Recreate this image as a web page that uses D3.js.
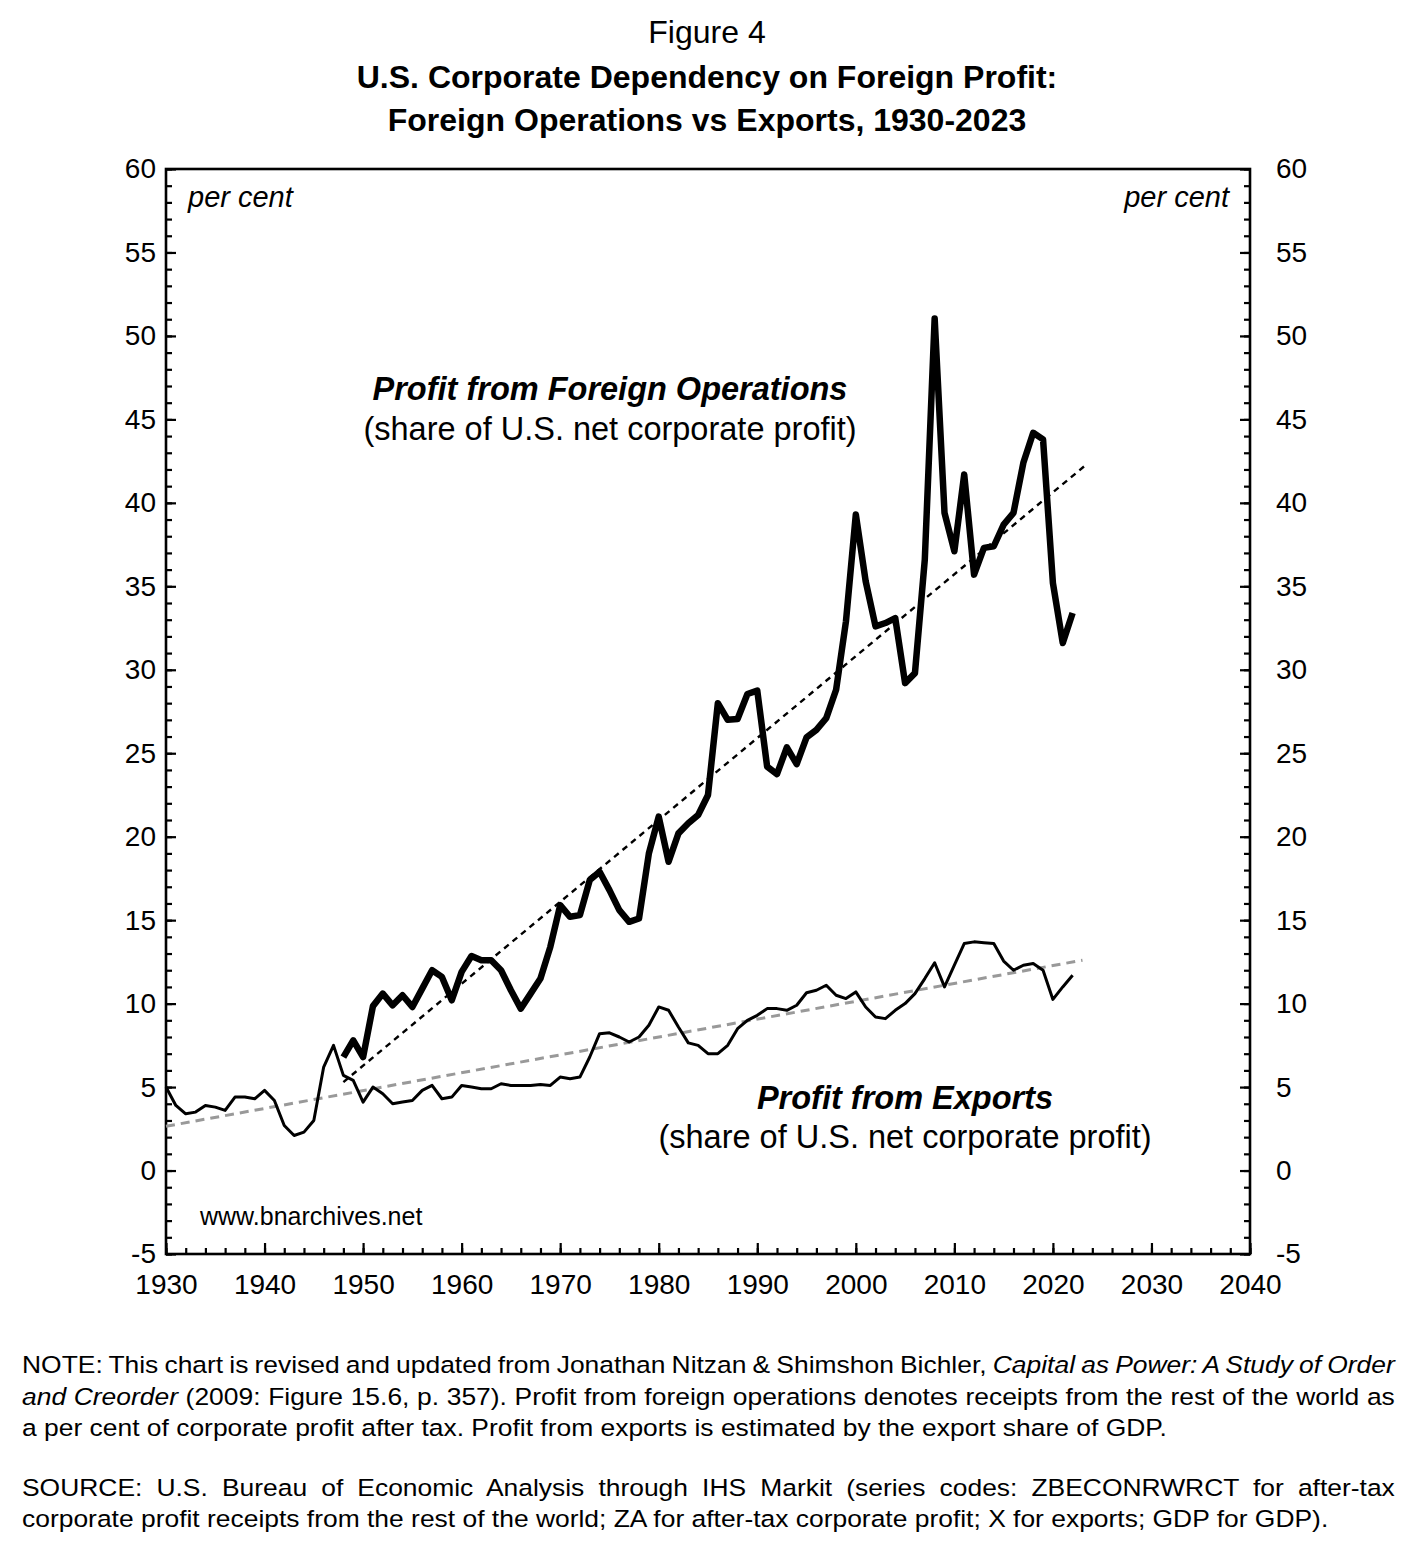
<!DOCTYPE html>
<html>
<head>
<meta charset="utf-8">
<script src="https://cdn.jsdelivr.net/npm/d3@7"></script>
<style>
  html, body { margin: 0; padding: 0; background: #fff; }
  svg { display: block; font-family: "Liberation Sans", Arial, sans-serif; }
</style>
</head>
<body>
<svg id="chart" width="1422" height="1547"></svg>
<script>
// ---------------- DATA ----------------
const exportYears = d3.range(1930, 2023); // 1930..2022
const exportShare = [
  5.0, 3.9, 3.4, 3.5, 3.9, 3.8, 3.6, 4.4, 4.4, 4.3,      // 1930-1939
  4.8, 4.2, 2.7, 2.1, 2.3, 3.0, 6.2, 7.5, 5.7, 5.4,      // 1940-1949
  4.1, 5.0, 4.6, 4.0, 4.1, 4.2, 4.8, 5.1, 4.3, 4.4,      // 1950-1959
  5.1, 5.0, 4.9, 4.9, 5.2, 5.1, 5.1, 5.1, 5.15, 5.1,     // 1960-1969
  5.6, 5.5, 5.6, 6.8, 8.2, 8.25, 8.0, 7.7, 8.0, 8.7,     // 1970-1979
  9.8, 9.6, 8.6, 7.65, 7.5, 7.0, 7.0, 7.5, 8.5, 9.0,     // 1980-1989
  9.3, 9.7, 9.7, 9.6, 9.9, 10.65, 10.8, 11.1, 10.5, 10.3,// 1990-1999
  10.7, 9.8, 9.2, 9.1, 9.6, 10.0, 10.6, 11.5, 12.45, 11.0,// 2000-2009
  12.3, 13.6, 13.7, 13.65, 13.6, 12.55, 12.0, 12.3, 12.4, 12.0, // 2010-2019
  10.25, 11.0, 11.7                                       // 2020-2022
];

const foreignYears = d3.range(1948, 2023); // 1948..2022
const foreignShare = [
  6.8, 7.8,                                               // 1948-1949
  6.8, 9.85, 10.6, 9.9, 10.5, 9.8, 10.9, 12.0, 11.6, 10.2, // 1950-1959
  11.9, 12.85, 12.6, 12.6, 12.0, 10.8, 9.7, 10.6, 11.5, 13.4, // 1960-1969
  15.9, 15.2, 15.3, 17.4, 17.9, 16.8, 15.6, 14.9, 15.1, 19.0, // 1970-1979
  21.2, 18.5, 20.2, 20.8, 21.3, 22.5, 28.0, 27.0, 27.05, 28.55, // 1980-1989
  28.75, 24.2, 23.75, 25.35, 24.35, 25.95, 26.4, 27.1, 28.8, 32.9, // 1990-1999
  39.3, 35.3, 32.6, 32.8, 33.1, 29.2, 29.8, 36.6, 51.05, 39.4, // 2000-2009
  37.1, 41.7, 35.7, 37.3, 37.4, 38.7, 39.4, 42.4, 44.2, 43.8,  // 2010-2019
  35.2, 31.6, 33.4                                          // 2020-2022
];

// trend lines (end points)
const foreignTrendYears = [1948, 2023.2];
const foreignTrend = [5.3, 42.2];
const exportTrendYears = [1930, 2023];
const exportTrend = [2.65, 12.6];

// ticks
const xMajorTicks = d3.range(1930, 2041, 10);
const xMinorTicks = d3.range(1930, 2041, 2);
const yMajorTicks = d3.range(-5, 61, 5);
const yMinorTicks = d3.range(-5, 61, 1);

// texts
const figureLabel = "Figure 4";
const titleLines = ["U.S. Corporate Dependency on Foreign Profit:", "Foreign Operations vs Exports, 1930-2023"];
const unitLabel = "per cent";
const foreignLabel = ["Profit from Foreign Operations", "(share of U.S. net corporate profit)"];
const exportLabel = ["Profit from Exports", "(share of U.S. net corporate profit)"];
const siteLabel = "www.bnarchives.net";
const noteLines = [
  { parts: [["NOTE: This chart is revised and updated from Jonathan Nitzan & Shimshon Bichler, ", false], ["Capital as Power: A Study of Order", true]], justify: true },
  { parts: [["and Creorder", true], [" (2009: Figure 15.6, p. 357). Profit from foreign operations denotes receipts from the rest of the world as", false]], justify: true },
  { parts: [["a per cent of corporate profit after tax. Profit from exports is estimated by the export share of GDP.", false]], justify: false, ref: true },
  { parts: [["SOURCE: U.S. Bureau of Economic Analysis through IHS Markit (series codes: ZBECONRWRCT for after-tax", false]], justify: true },
  { parts: [["corporate profit receipts from the rest of the world; ZA for after-tax corporate profit; X for exports; GDP for GDP).", false]], justify: false }
];

// ---------------- CHART ----------------
const svg = d3.select("#chart");
const L = 166, R = 1250, T = 169, B = 1254;
const x = d3.scaleLinear().domain([1930, 2040]).range([L, R]);
const y = d3.scaleLinear().domain([-5, 60]).range([B, T]);
const fmt = d => String(d); // plain hyphen for negatives

// titles
svg.append("text").attr("x", 707).attr("y", 43).attr("text-anchor", "middle")
  .attr("font-size", 32).text(figureLabel);
titleLines.forEach((t, i) => {
  svg.append("text").attr("x", 707).attr("y", 88 + i * 43).attr("text-anchor", "middle")
    .attr("font-size", 32).attr("font-weight", "bold").text(t);
});

// axes
const axisFont = 28;
function styleAxis(g) {
  g.select(".domain").remove();
  g.selectAll("line").attr("stroke", "#000").attr("stroke-width", 2.2);
  g.selectAll("text").attr("font-size", axisFont).attr("fill", "#000")
    .attr("font-family", "Liberation Sans, Arial, sans-serif");
}
// left
svg.append("g").attr("transform", `translate(${L},0)`)
  .call(d3.axisLeft(y).tickValues(yMinorTicks).tickSize(-6).tickFormat("")).call(styleAxis);
svg.append("g").attr("transform", `translate(${L},0)`)
  .call(d3.axisLeft(y).tickValues(yMajorTicks).tickSize(-10).tickPadding(10).tickFormat(fmt)).call(styleAxis);
// right
svg.append("g").attr("transform", `translate(${R},0)`)
  .call(d3.axisRight(y).tickValues(yMinorTicks).tickSize(-6).tickFormat("")).call(styleAxis);
svg.append("g").attr("transform", `translate(${R},0)`)
  .call(d3.axisRight(y).tickValues(yMajorTicks).tickSize(-10).tickPadding(26).tickFormat(fmt)).call(styleAxis);
// bottom
svg.append("g").attr("transform", `translate(0,${B})`)
  .call(d3.axisBottom(x).tickValues(xMinorTicks).tickSize(-6).tickFormat("")).call(styleAxis);
svg.append("g").attr("transform", `translate(0,${B})`)
  .call(d3.axisBottom(x).tickValues(xMajorTicks).tickSize(-11).tickPadding(20).tickFormat(fmt)).call(styleAxis);

// frame
svg.append("rect").attr("x", L).attr("y", T).attr("width", R - L).attr("height", B - T)
  .attr("fill", "none").attr("stroke", "#000").attr("stroke-width", 2.6);

// per cent labels
svg.append("text").attr("x", 188).attr("y", 207).attr("font-size", 29).attr("font-style", "italic").text(unitLabel);
svg.append("text").attr("x", 1229).attr("y", 207).attr("font-size", 29).attr("font-style", "italic")
  .attr("text-anchor", "end").text(unitLabel);

// lines
const line = d3.line().x(d => x(d[0])).y(d => y(d[1]));
const plot = svg.append("g");

plot.append("path")
  .datum(d3.zip(exportTrendYears, exportTrend))
  .attr("d", line).attr("fill", "none").attr("stroke", "#999")
  .attr("stroke-width", 3).attr("stroke-dasharray", "9,6");

plot.append("path")
  .datum(d3.zip(foreignTrendYears, foreignTrend))
  .attr("d", line).attr("fill", "none").attr("stroke", "#000")
  .attr("stroke-width", 2.4).attr("stroke-dasharray", "6,5");

plot.append("path")
  .datum(d3.zip(exportYears, exportShare))
  .attr("d", line).attr("fill", "none").attr("stroke", "#000")
  .attr("stroke-width", 3).attr("stroke-linejoin", "round");

plot.append("path")
  .datum(d3.zip(foreignYears, foreignShare))
  .attr("d", line).attr("fill", "none").attr("stroke", "#000")
  .attr("stroke-width", 6.5).attr("stroke-linejoin", "round");

// series labels
svg.append("text").attr("x", 610).attr("y", 400).attr("text-anchor", "middle")
  .attr("font-size", 32.5).attr("font-weight", "bold").attr("font-style", "italic").text(foreignLabel[0]);
svg.append("text").attr("x", 610).attr("y", 440).attr("text-anchor", "middle")
  .attr("font-size", 32.5).text(foreignLabel[1]);
svg.append("text").attr("x", 905).attr("y", 1109).attr("text-anchor", "middle")
  .attr("font-size", 32.5).attr("font-weight", "bold").attr("font-style", "italic").text(exportLabel[0]);
svg.append("text").attr("x", 905).attr("y", 1148).attr("text-anchor", "middle")
  .attr("font-size", 32.5).text(exportLabel[1]);

svg.append("text").attr("x", 200).attr("y", 1225).attr("font-size", 25).text(siteLabel);

// notes
const noteX = 22, noteRight = 1395, noteFont = 23.5;
const baselines = [1373, 1405, 1436, 1496, 1527];
const texts = noteLines.map((ln, i) => {
  const t = svg.append("text").attr("x", 0).attr("y", 0).attr("font-size", noteFont)
    .attr("transform", `translate(${noteX},${baselines[i]})`);
  ln.parts.forEach(p => {
    t.append("tspan").attr("font-style", p[1] ? "italic" : "normal").text(p[0]);
  });
  return t;
});
const widths = texts.map(t => t.node().getComputedTextLength());
const refIdx = noteLines.findIndex(l => l.ref);
const s = 1145 / widths[refIdx];
texts.forEach((t, i) => {
  const ln = noteLines[i];
  t.attr("transform", `translate(${noteX},${baselines[i]}) scale(${s},1)`);
  if (ln.justify) {
    const txt = ln.parts.map(p => p[0]).join("");
    const nSpaces = (txt.match(/ /g) || []).length;
    const extra = (noteRight - noteX) / s - widths[i];
    t.style("word-spacing", (extra / nSpaces) + "px");
  }
});
</script>
</body>
</html>
